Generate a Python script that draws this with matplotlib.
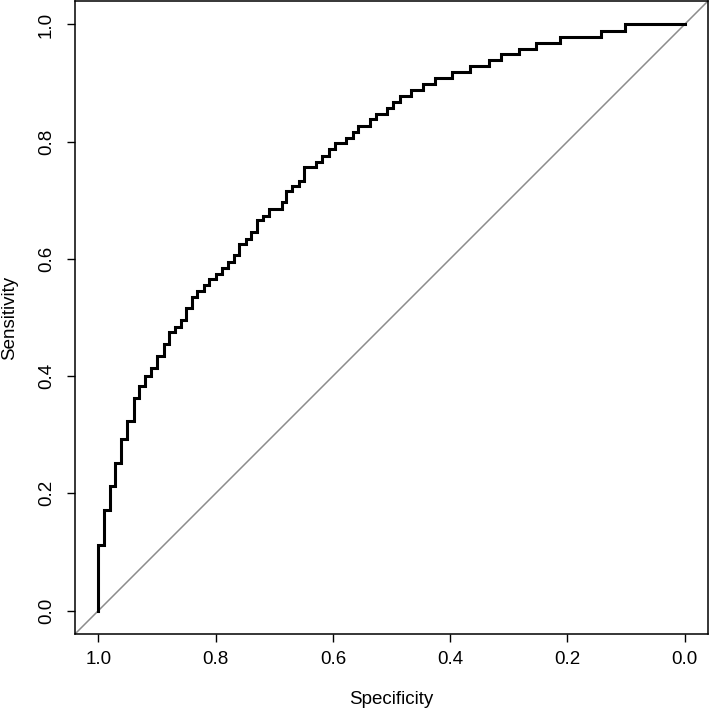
import matplotlib
matplotlib.use("Agg")
import matplotlib.pyplot as plt

plt.rcParams['font.family'] = ['Liberation Sans', 'DejaVu Sans']

# Step corners of the ROC curve (specificity where sensitivity rises, new sensitivity)
specificity = [1.000, 0.991, 0.981, 0.971, 0.961, 0.951, 0.940, 0.930, 0.921, 0.911,
               0.900, 0.889, 0.880, 0.870, 0.860, 0.850, 0.841, 0.832, 0.820, 0.811,
               0.800, 0.790, 0.779, 0.769, 0.760, 0.748, 0.740, 0.730, 0.720, 0.709,
               0.686, 0.680, 0.669, 0.658, 0.649, 0.629, 0.618, 0.607, 0.597, 0.577,
               0.566, 0.558, 0.537, 0.527, 0.507, 0.497, 0.486, 0.466, 0.446, 0.426,
               0.397, 0.366, 0.334, 0.313, 0.283, 0.253, 0.213, 0.142, 0.101]
sensitivity = [0.111, 0.171, 0.212, 0.252, 0.293, 0.323, 0.363, 0.383, 0.400, 0.414,
               0.435, 0.455, 0.475, 0.484, 0.496, 0.516, 0.535, 0.545, 0.555, 0.565,
               0.575, 0.585, 0.595, 0.606, 0.626, 0.634, 0.646, 0.666, 0.674, 0.685,
               0.697, 0.716, 0.725, 0.733, 0.756, 0.765, 0.776, 0.787, 0.797, 0.807,
               0.817, 0.827, 0.838, 0.848, 0.858, 0.868, 0.878, 0.889, 0.899, 0.909,
               0.919, 0.929, 0.939, 0.949, 0.958, 0.969, 0.979, 0.989, 1.000]
tick_values = [1.0, 0.8, 0.6, 0.4, 0.2, 0.0]
tick_labels = ["1.0", "0.8", "0.6", "0.4", "0.2", "0.0"]

xs = [1.0]
ys = [0.0]
for i in range(len(specificity)):
    xs.append(specificity[i]); ys.append(sensitivity[i])
    nxt = specificity[i + 1] if i + 1 < len(specificity) else 0.0
    xs.append(nxt); ys.append(sensitivity[i])

W, H = 709, 712
fig = plt.figure(figsize=(W / 100, H / 100), dpi=100)
ax = fig.add_axes([75 / W, 78 / H, 633 / W, 633 / H])

ax.axline((1.0, 0.0), (0.0, 1.0), color="#8c8c8c", lw=1.1, zorder=1)
ax.plot(xs, ys, color="black", lw=2.2, zorder=2, solid_joinstyle="miter")

ax.set_xlim(1.04, -0.04)
ax.set_ylim(-0.04, 1.04)
ax.set_xticks(tick_values)
ax.set_xticklabels(tick_labels)
ax.set_yticks(tick_values)
ax.set_yticklabels(tick_labels, rotation=90, va="center")
ax.tick_params(direction="out", length=5.5, width=1.0, labelsize=13.5, pad=7)
ax.tick_params(axis="y", pad=9)
for s in ax.spines.values():
    s.set_linewidth(1.1)
ax.set_xlabel("Specificity", fontsize=13.5, va="center")
ax.set_ylabel("Sensitivity", fontsize=13.5, ha="center", va="center")
ax.xaxis.set_label_coords(0.5, -66 / 633)
ax.yaxis.set_label_coords(-65 / 633, 0.5)

fig.savefig("out.png", dpi=100)
